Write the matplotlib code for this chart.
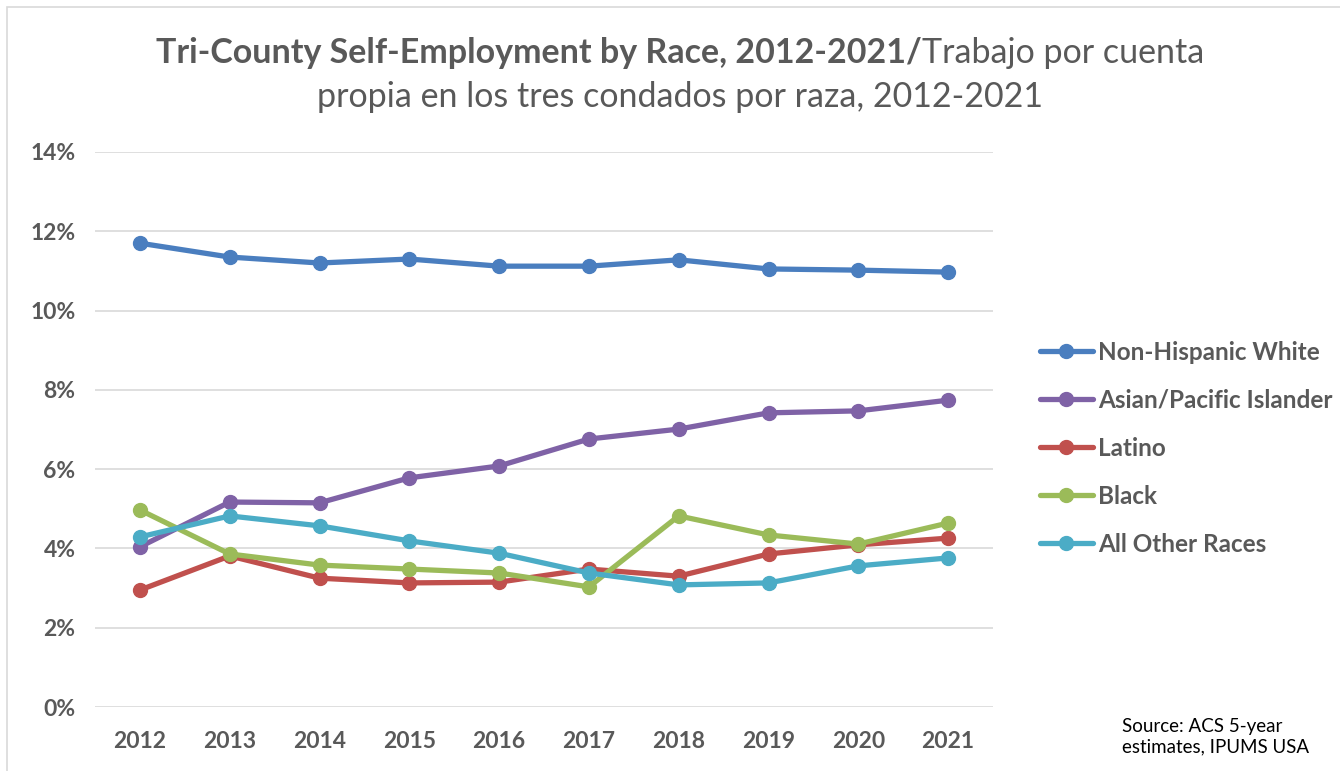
import matplotlib.pyplot as plt
from matplotlib.patches import Rectangle
from matplotlib.ticker import FuncFormatter

plt.rcParams["font.family"] = ["Lato", "DejaVu Sans"]

YEARS = [2012, 2013, 2014, 2015, 2016, 2017, 2018, 2019, 2020, 2021]
WHITE = [11.70, 11.35, 11.20, 11.30, 11.12, 11.12, 11.28, 11.05, 11.02, 10.97]
ASIAN = [4.04, 5.17, 5.15, 5.78, 6.08, 6.76, 7.01, 7.42, 7.47, 7.74]
LATINO = [2.95, 3.81, 3.25, 3.13, 3.15, 3.48, 3.30, 3.86, 4.09, 4.26]
BLACK = [4.97, 3.86, 3.58, 3.48, 3.38, 3.03, 4.82, 4.34, 4.11, 4.64]
OTHER = [4.29, 4.82, 4.57, 4.19, 3.88, 3.38, 3.08, 3.13, 3.56, 3.76]

SERIES = [
    ("Non-Hispanic White", WHITE, "#4A7EBF"),
    ("Asian/Pacific Islander", ASIAN, "#7F62A6"),
    ("Latino", LATINO, "#C0504D"),
    ("Black", BLACK, "#9BBB59"),
    ("All Other Races", OTHER, "#4BACC6"),
]

GRAY = "#595959"

fig = plt.figure(figsize=(13.4, 7.71), dpi=100)
ax = fig.add_axes([95 / 1340, 1 - 707 / 771, (993 - 95) / 1340, (707 - 152) / 771])

xpos = list(range(len(YEARS)))
for name, vals, col in SERIES:
    ax.plot(xpos, vals, color=col, lw=3.8, marker="o", ms=10,
            solid_capstyle="round", label=name, zorder=3)

ax.set_xlim(-0.5, len(YEARS) - 0.5)
ax.set_ylim(0, 14)
ax.set_yticks(range(0, 15, 2))
ax.yaxis.set_major_formatter(FuncFormatter(lambda v, _: f"{v:.0f}%"))
ax.set_xticks(xpos)
ax.set_xticklabels([str(y) for y in YEARS])
ax.grid(axis="y", color="#D9D9D9", lw=1.2, zorder=0)
ax.set_axisbelow(True)
for s in ax.spines.values():
    s.set_visible(False)
ax.tick_params(length=0, labelsize=16.5, labelcolor=GRAY, pad=14)
ax.tick_params(axis="x", pad=17)
for lab in ax.get_xticklabels() + ax.get_yticklabels():
    lab.set_fontweight("bold")

leg = fig.legend(loc="upper left", bbox_to_anchor=(1030 / 1340, 1 - 331 / 771),
                 frameon=False, fontsize=17.5, handlelength=2.2, handletextpad=0.2,
                 labelspacing=1.03, borderaxespad=0)
for t in leg.get_texts():
    t.set_color(GRAY)
    t.set_fontweight("bold")

# title: bold part + regular part on the first line
fig.canvas.draw()
r = fig.canvas.get_renderer()
y1 = 1 - 53 / 771
t_b = fig.text(0, y1, "Tri-County Self-Employment by Race, 2012-2021/",
               fontsize=24.5, fontweight="bold", color=GRAY, va="center")
t_r = fig.text(0, y1, "Trabajo por cuenta", fontsize=24.5, color=GRAY, va="center")
wb = t_b.get_window_extent(r).width
wr = t_r.get_window_extent(r).width
x0 = (1340 * 0.5 + 10 - (wb + wr) / 2) / 1340
t_b.set_x(x0)
t_r.set_x(x0 + wb / 1340)
fig.text(0.5 + 10 / 1340, 1 - 97 / 771, "propia en los tres condados por raza, 2012-2021",
         fontsize=24.5, color=GRAY, ha="center", va="center")

fig.text(1122 / 1340, 1 - 737 / 771, "Source: ACS 5-year\nestimates, IPUMS USA",
         fontsize=13.5, color="black", va="center", linespacing=1.25)

fig.patches.append(Rectangle((7 / 1340, -0.01), 1.1, 1 - 7 / 771 + 0.01,
                             transform=fig.transFigure, fill=False,
                             edgecolor="#D9D9D9", lw=1.2))

fig.savefig("out.png", dpi=100, facecolor="white")
